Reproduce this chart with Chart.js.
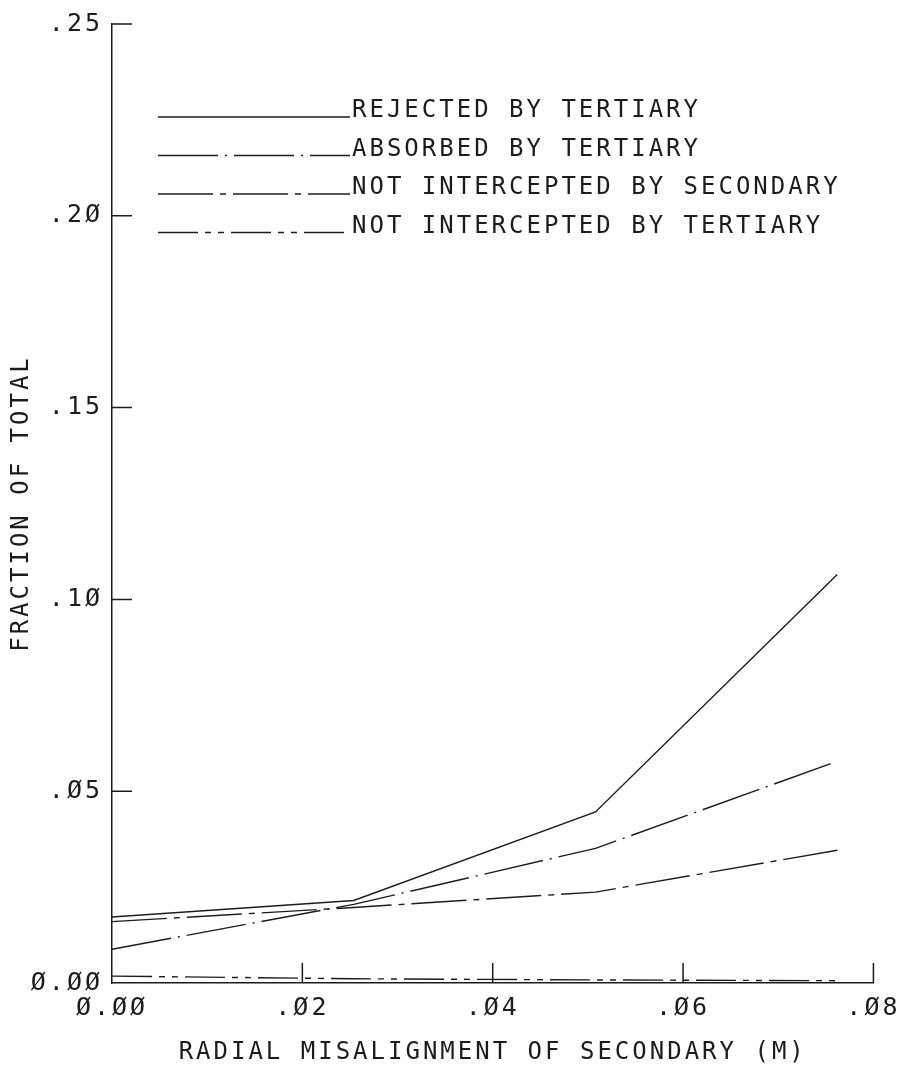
<!DOCTYPE html>
<html>
<head>
<meta charset="utf-8">
<title>Fraction of total vs radial misalignment</title>
<script src="https://cdn.jsdelivr.net/npm/chart.js@4.4.1/dist/chart.umd.min.js"></script>
<style>
  html, body { margin: 0; padding: 0; background: #fff; }
  #wrap { width: 906px; height: 1067px; }
</style>
</head>
<body>
<div id="wrap"><canvas id="plot" width="906" height="1067"></canvas></div>
<script>
// radial misalignment in metres (1, 2, 3 inch offsets)
const X_VALUES = [0, 0.0254, 0.0508, 0.0762]

const REJECTED_BY_TERTIARY = [0.0172, 0.0215, 0.0446, 0.1065]
const ABSORBED_BY_TERTIARY = [0.0088, 0.0205, 0.0351, 0.0578]
const NOT_INTERCEPTED_SECONDARY = [0.016, 0.0197, 0.0237, 0.0346]
const NOT_INTERCEPTED_TERTIARY = [0.0018, 0.0011, 0.0008, 0.0006]

const SERIES_LABELS = [
  'REJECTED BY TERTIARY',
  'ABSORBED BY TERTIARY',
  'NOT INTERCEPTED BY SECONDARY',
  'NOT INTERCEPTED BY TERTIARY',
]

const X_TICK_VALUES = [0, 0.02, 0.04, 0.06, 0.08]
const X_TICK_LABELS = ['Ø.ØØ', '.Ø2', '.Ø4', '.Ø6', '.Ø8']
const Y_TICK_VALUES = [0, 0.05, 0.1, 0.15, 0.2, 0.25]
const Y_TICK_LABELS = ['Ø.ØØ', '.Ø5', '.1Ø', '.15', '.2Ø', '.25']

const X_TITLE = 'RADIAL MISALIGNMENT OF SECONDARY (M)'
const Y_TITLE = 'FRACTION OF TOTAL'

const FONT = '"DejaVu Sans Mono", "Liberation Mono", monospace'
const INK = '#1c1c1c'

function toPoints(values) {
  return values.map((y, i) => ({ x: X_VALUES[i], y }))
}

function makeSeries(label, values, dash) {
  return {
    label,
    data: toPoints(values),
    borderColor: INK,
    borderWidth: 1.4,
    borderDash: dash,
    pointRadius: 0,
    tension: 0,
    fill: false,
  }
}

// plotter lettering is widely spaced
const plotterSpacing = {
  id: 'plotterSpacing',
  beforeDraw(chart) {
    chart.ctx.letterSpacing = '3px'
  },
}

// short tick marks pointing into the plot area
const inwardTicks = {
  id: 'inwardTicks',
  afterDraw(chart) {
    const { ctx, chartArea, scales } = chart
    ctx.save()
    ctx.strokeStyle = INK
    ctx.lineWidth = 1.5
    ctx.beginPath()
    Y_TICK_VALUES.slice(1).forEach((v) => {
      const y = scales.y.getPixelForValue(v)
      ctx.moveTo(chartArea.left, y)
      ctx.lineTo(chartArea.left + 20, y)
    })
    X_TICK_VALUES.slice(1).forEach((v) => {
      const x = scales.x.getPixelForValue(v)
      ctx.moveTo(x, chartArea.bottom)
      ctx.lineTo(x, chartArea.bottom - 20)
    })
    ctx.stroke()
    ctx.restore()
  },
}

// key drawn as a stack of line samples with labels inside the plot
const plotterLegend = {
  id: 'plotterLegend',
  afterDraw(chart) {
    const { ctx } = chart
    ctx.save()
    ctx.font = `24px ${FONT}`
    ctx.fillStyle = INK
    ctx.textBaseline = 'alphabetic'
    ctx.textAlign = 'left'
    chart.data.datasets.forEach((ds, i) => {
      const y = 117 + i * 38.5
      ctx.strokeStyle = ds.borderColor
      ctx.lineWidth = ds.borderWidth
      ctx.setLineDash(ds.borderDash || [])
      ctx.beginPath()
      ctx.moveTo(158, y)
      ctx.lineTo(350, y)
      ctx.stroke()
      ctx.fillText(ds.label, 352, y)
    })
    ctx.restore()
  },
}

function initializeChart() {
  const canvas = document.getElementById('plot')
  return new Chart(canvas, {
    type: 'line',
    data: {
      datasets: [
        makeSeries(SERIES_LABELS[0], REJECTED_BY_TERTIARY, []),
        makeSeries(SERIES_LABELS[1], ABSORBED_BY_TERTIARY, [60, 7, 2, 7]),
        makeSeries(SERIES_LABELS[2], NOT_INTERCEPTED_SECONDARY, [55, 7, 6, 7]),
        makeSeries(SERIES_LABELS[3], NOT_INTERCEPTED_TERTIARY, [40, 7, 6, 7, 6, 7]),
      ],
    },
    options: {
      responsive: false,
      animation: false,
      devicePixelRatio: 1,
      layout: { padding: { top: 22, right: 30, left: 0, bottom: 0 } },
      plugins: {
        legend: { display: false },
        tooltip: { enabled: false },
      },
      scales: {
        x: {
          type: 'linear',
          min: 0,
          max: 0.08,
          afterFit: (scale) => {
            scale.height = 84
          },
          afterBuildTicks: (scale) => {
            scale.ticks = X_TICK_VALUES.map((value) => ({ value }))
          },
          ticks: {
            padding: 10,
            maxRotation: 0,
            autoSkip: false,
            color: INK,
            font: { family: FONT, size: 25 },
            callback: (value, index) => X_TICK_LABELS[index],
          },
          grid: { display: false, drawTicks: false },
          border: { display: true, color: INK, width: 1.5 },
          title: {
            display: true,
            text: X_TITLE,
            color: INK,
            font: { family: FONT, size: 24 },
            padding: { top: 19, bottom: 0 },
          },
        },
        y: {
          min: 0,
          max: 0.25,
          afterFit: (scale) => {
            scale.width = 112
          },
          afterBuildTicks: (scale) => {
            scale.ticks = Y_TICK_VALUES.map((value) => ({ value }))
          },
          ticks: {
            padding: 9,
            autoSkip: false,
            color: INK,
            font: { family: FONT, size: 25 },
            callback: (value, index) => Y_TICK_LABELS[index],
          },
          grid: { display: false, drawTicks: false },
          border: { display: true, color: INK, width: 1.5 },
          title: {
            display: true,
            text: Y_TITLE,
            color: INK,
            font: { family: FONT, size: 24 },
            padding: { top: 7, bottom: 0 },
          },
        },
      },
    },
    plugins: [plotterSpacing, inwardTicks, plotterLegend],
  })
}

globalThis.addEventListener('DOMContentLoaded', () => {
  initializeChart()
})
</script>
</body>
</html>
